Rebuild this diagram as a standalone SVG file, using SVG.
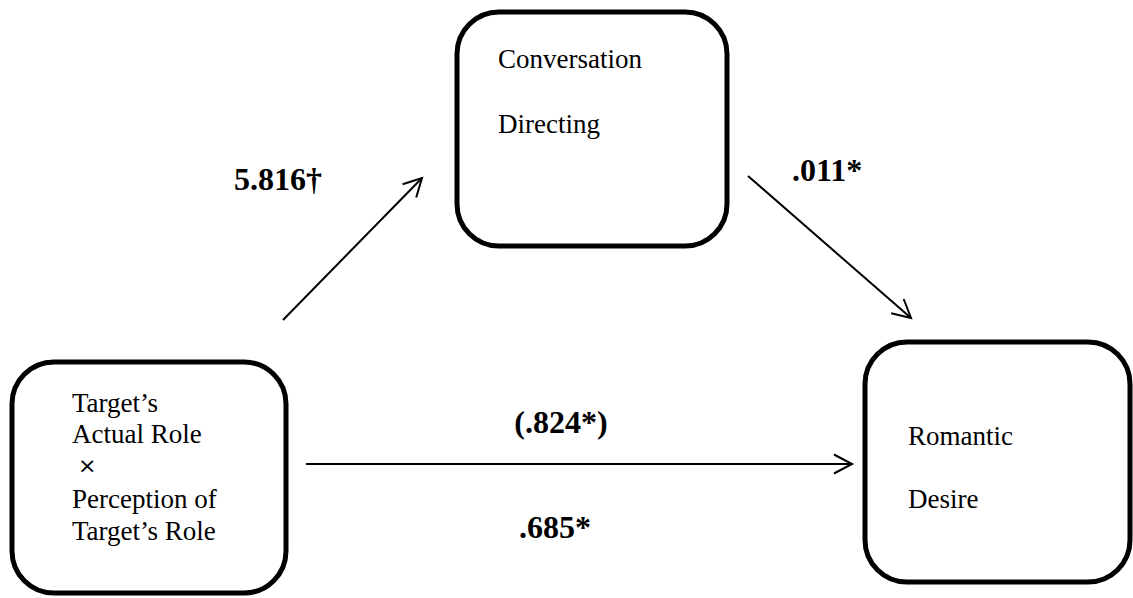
<svg xmlns="http://www.w3.org/2000/svg" width="1133" height="598" viewBox="0 0 1133 598">
  <style>
    .box { fill: #ffffff; stroke: #000000; stroke-width: 5; }
    .t { font-family: 'Liberation Serif', Tinos, 'Times New Roman', 'DejaVu Serif', serif; font-size: 27px; fill: #000000; }
    .lbl { font-family: 'Liberation Serif', Tinos, 'Times New Roman', 'DejaVu Serif', serif; font-size: 32px; font-weight: bold; fill: #000000; }
    .x { font-family: 'DejaVu Sans', 'Liberation Sans', sans-serif; font-size: 22px; fill: #000000; }
    .conn { stroke: #000000; stroke-width: 2; fill: none; marker-end: url(#arr); }
  </style>
  <defs>
    <marker id="arr" markerUnits="userSpaceOnUse" markerWidth="24" markerHeight="24" refX="0" refY="0" viewBox="-22 -12 24 24" orient="auto" overflow="visible">
      <path d="M-18,-9.5 L0,0 L-18,9.5" fill="none" stroke="#000000" stroke-width="2"/>
    </marker>
  </defs>
  <rect width="1133" height="598" fill="#ffffff"/>

  <g id="node-mediator">
    <rect class="box" x="457" y="12" width="270" height="234" rx="42" ry="42"/>
    <text class="t" x="498" y="68">Conversation</text>
    <text class="t" x="498" y="133">Directing</text>
  </g>

  <g id="node-predictor">
    <rect class="box" x="12" y="362" width="274" height="231" rx="42" ry="42"/>
    <text class="t" x="72" y="412">Target’s</text>
    <text class="t" x="72" y="443">Actual Role</text>
    <text class="x" x="78" y="473">×</text>
    <text class="t" x="72" y="508">Perception of</text>
    <text class="t" x="72" y="540">Target’s Role</text>
  </g>

  <g id="node-outcome">
    <rect class="box" x="865" y="342" width="265" height="240" rx="42" ry="42"/>
    <text class="t" x="908" y="445">Romantic</text>
    <text class="t" x="908" y="508">Desire</text>
  </g>

  <g id="connectors">
    <line class="conn" x1="283" y1="320" x2="422" y2="178"/>
    <line class="conn" x1="748" y1="176" x2="911" y2="318"/>
    <line class="conn" x1="306" y1="464" x2="852" y2="464"/>
  </g>

  <g id="labels">
    <text class="lbl" x="234" y="190">5.816†</text>
    <text class="lbl" x="792" y="181">.011*</text>
    <text class="lbl" x="561" y="433" text-anchor="middle">(.824*)</text>
    <text class="lbl" x="555" y="538" text-anchor="middle">.685*</text>
  </g>
</svg>
